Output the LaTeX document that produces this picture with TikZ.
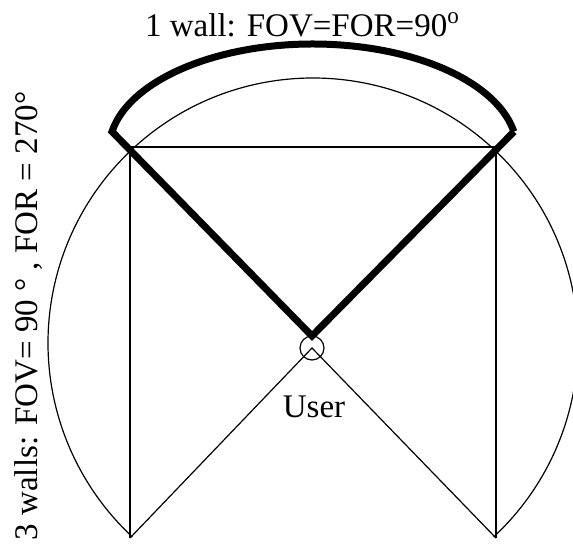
\documentclass[tikz,border=0pt]{standalone}
\usepackage{fontspec}
\setmainfont{Liberation Serif}
\begin{document}
\begin{tikzpicture}[x=0.5pt,y=0.5pt,
    wire/.style={line width=0.6pt},
    fatwire/.style={line width=3.5pt,line join=miter},
    lbl/.style={font=\fontsize{16.5}{18}\selectfont,inner sep=0pt}]
  \useasboundingbox (0,0) rectangle (573,548);

  \coordinate (tl) at (130,401);
  \coordinate (tr) at (496,401);
  \coordinate (bl) at (130,10);
  \coordinate (br) at (496,10);
  \coordinate (mid) at (313,205);
  \coordinate (apex) at (312,212);
  \coordinate (fovL) at (112,416.4);
  \coordinate (fovR) at (514,416.4);

  \node[draw,circle,minimum size=12pt,inner sep=0pt,wire] (user) at (312,200) {};

  % room walls and the circle round the user
  \draw[wire] (bl) -- (tl) -- (tr) -- (br);
  \draw[wire] (bl) -- (user.center) -- (br);
  \draw[wire] (mid) ++(-47:265) arc[start angle=-47,end angle=227,radius=265];

  % 1 wall field of view
  \draw[fatwire] (fovR) -- (apex) -- (fovL)
    arc[start angle=170,end angle=10,x radius=204,y radius=106];

  \node[lbl,anchor=base] (onewall) at (302.5,512) {1 wall: FOV=FOR=90\textsuperscript{o}};
  \node[lbl,rotate=90,anchor=base] (threewalls) at (37,232) {3 walls: FOV= 90 ° , FOR = 270°};
  \node[lbl,anchor=base] (username) at (314,131) {User};

\end{tikzpicture}
\end{document}
